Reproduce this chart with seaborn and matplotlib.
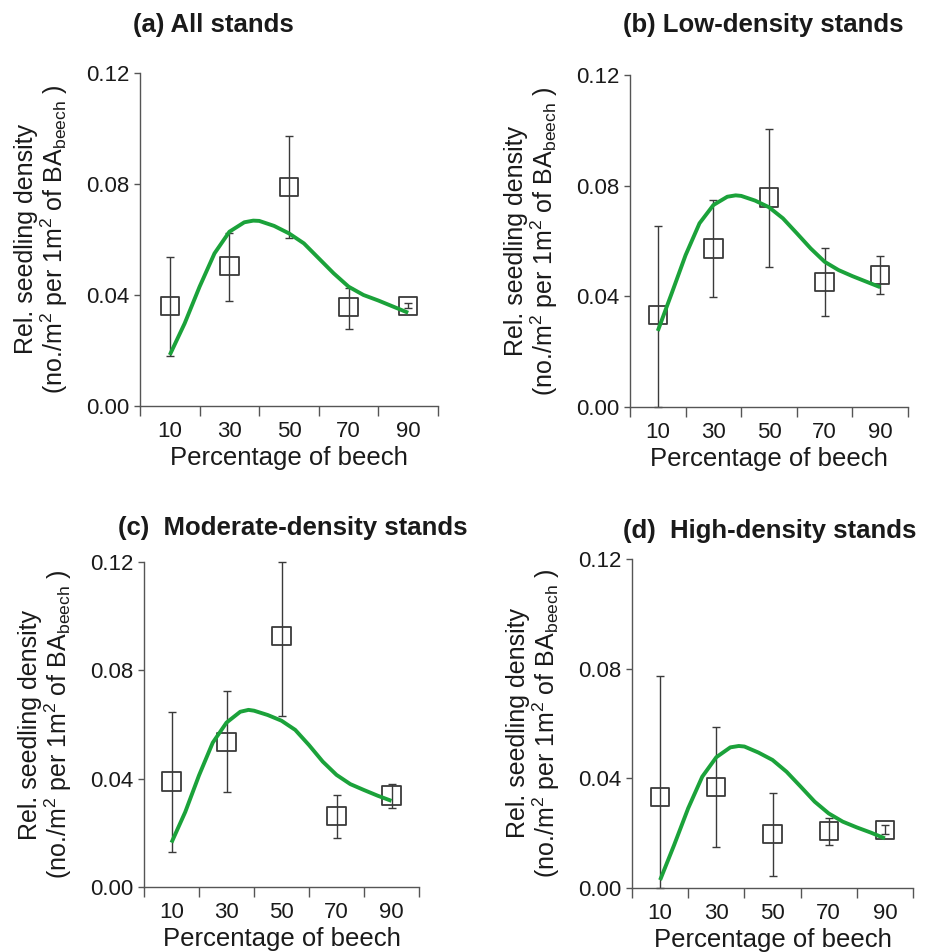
import matplotlib
matplotlib.use("Agg")
import matplotlib.pyplot as plt
import seaborn as sns
import pandas as pd

sns.set_theme(style="white")
plt.rcParams['font.family'] = ['Liberation Sans', 'DejaVu Sans']
plt.rcParams['mathtext.fontset'] = 'custom'
plt.rcParams['mathtext.rm'] = 'Liberation Sans'
plt.rcParams['mathtext.it'] = 'Liberation Sans:italic'
plt.rcParams['mathtext.bf'] = 'Liberation Sans:bold'
plt.rcParams['mathtext.default'] = 'regular'

# ---- data ----
pct = [10, 30, 50, 70, 90]
tick_labels = ["10", "30", "50", "70", "90"]

a_mean = [0.0361, 0.0505, 0.0789, 0.0356, 0.0361]
a_lo = [0.0180, 0.0380, 0.0606, 0.0279, 0.0352]
a_hi = [0.0537, 0.0625, 0.0972, 0.0424, 0.0370]

b_mean = [0.0332, 0.0573, 0.0757, 0.0452, 0.0476]
b_lo = [0.0000, 0.0398, 0.0507, 0.0328, 0.0410]
b_hi = [0.0655, 0.0748, 0.1006, 0.0576, 0.0545]

c_mean = [0.0389, 0.0535, 0.0926, 0.0261, 0.0338]
c_lo = [0.0130, 0.0352, 0.0630, 0.0181, 0.0292]
c_hi = [0.0647, 0.0724, 0.1200, 0.0341, 0.0382]

d_mean = [0.0333, 0.0368, 0.0196, 0.0208, 0.0212]
d_lo = [0.0000, 0.0151, 0.0044, 0.0158, 0.0196]
d_hi = [0.0774, 0.0589, 0.0346, 0.0257, 0.0230]

fit_x = [10, 15, 20, 25, 30, 35, 38, 40, 45, 50, 55, 60, 65, 70, 75, 80, 85, 90]
a_fit = [0.0184, 0.0298, 0.0430, 0.0550, 0.0628, 0.0662, 0.0668, 0.0667, 0.0649, 0.0622,
         0.0586, 0.0532, 0.0478, 0.0430, 0.0400, 0.0380, 0.0358, 0.0336]
b_fit = [0.0275, 0.0411, 0.0549, 0.0664, 0.0730, 0.0760, 0.0765, 0.0763, 0.0746, 0.0722,
         0.0682, 0.0628, 0.0573, 0.0525, 0.0495, 0.0473, 0.0453, 0.0433]
c_fit = [0.0164, 0.0277, 0.0412, 0.0533, 0.0607, 0.0647, 0.0654, 0.0651, 0.0635, 0.0614,
         0.0580, 0.0524, 0.0463, 0.0414, 0.0380, 0.0358, 0.0337, 0.0318]
d_fit = [0.0029, 0.0157, 0.0291, 0.0406, 0.0477, 0.0513, 0.0518, 0.0516, 0.0494, 0.0467,
         0.0424, 0.0370, 0.0315, 0.0272, 0.0242, 0.0221, 0.0202, 0.0181]

titles = ["(a) All stands", "(b) Low-density stands",
          "(c)  Moderate-density stands", "(d)  High-density stands"]
y_ticks = [0.00, 0.04, 0.08, 0.12]
y_tick_labels = ["0.00", "0.04", "0.08", "0.12"]
xlabel = "Percentage of beech"
ylabel = "Rel. seedling density\n(no./m$^{2}$ per 1m$^{2}$ of BA$_{beech}$ )"

panels = [
    (a_mean, a_lo, a_hi, a_fit),
    (b_mean, b_lo, b_hi, b_fit),
    (c_mean, c_lo, c_hi, c_fit),
    (d_mean, d_lo, d_hi, d_fit),
]

# ---- layout (pixels) ----
W, H = 933, 952
axes_px = [  # left, right, top, bottom
    (140, 438, 73, 406),
    (630, 908, 75, 407),
    (144, 419, 562, 887),
    (632, 913, 559, 888),
]
title_px = [(133, 25), (623, 25), (118, 528), (623, 531)]

GREEN = "#1ba23a"
GREY = "#3a3a3a"
SPINE = "#555555"
TEXT = "#1a1a1a"

fig = plt.figure(figsize=(W / 100, H / 100), dpi=100)
fig.patch.set_facecolor("white")

for i, (mean, lo, hi, fit) in enumerate(panels):
    l, r, t, b = axes_px[i]
    ax = fig.add_axes([l / W, 1 - b / H, (r - l) / W, (b - t) / H])
    ax.set_facecolor("white")

    fit_df = pd.DataFrame({"x": fit_x, "y": fit})
    pts_df = pd.DataFrame({"x": pct, "y": mean})

    err_lo = [m - v for m, v in zip(mean, lo)]
    err_hi = [v - m for m, v in zip(mean, hi)]
    ax.errorbar(pct, mean, yerr=[err_lo, err_hi], fmt="none", ecolor=GREY,
                elinewidth=1.0, capsize=3.2, capthick=1.0, zorder=2, clip_on=False)
    sns.scatterplot(data=pts_df, x="x", y="y", marker="s", s=175,
                    facecolors="none", edgecolor=GREY, linewidth=1.3,
                    ax=ax, zorder=3, clip_on=False)
    sns.lineplot(data=fit_df, x="x", y="y", color=GREEN, linewidth=2.8,
                 ax=ax, zorder=4, estimator=None, sort=False,
                 solid_joinstyle="round", solid_capstyle="butt")

    ax.set_xlim(0, 100)
    ax.set_ylim(0, 0.12)
    ax.set_xticks([0, 20, 40, 60, 80, 100])
    ax.set_xticklabels([])
    ax.set_xticks(pct, minor=True)
    ax.set_xticklabels(tick_labels, minor=True)
    ax.set_yticks(y_ticks)
    ax.set_yticklabels(y_tick_labels)

    ax.tick_params(axis="x", which="major", direction="out", length=7,
                   width=1.0, color=SPINE, bottom=True)
    ax.tick_params(axis="x", which="minor", length=0, pad=11,
                   labelsize=16, labelcolor=TEXT, bottom=True)
    ax.tick_params(axis="y", which="major", direction="out", length=4.5,
                   width=1.0, color=SPINE, pad=3, labelsize=16,
                   labelcolor=TEXT, left=True)

    for s in ["top", "right"]:
        ax.spines[s].set_visible(False)
    for s in ["left", "bottom"]:
        ax.spines[s].set_color(SPINE)
        ax.spines[s].set_linewidth(1.0)

    ax.set_xlabel(xlabel, fontsize=18.5, color=TEXT, labelpad=3)
    ax.set_ylabel("")
    ax.grid(False)

    fig.text((l - 98) / W, 1 - ((t + b) / 2) / H, ylabel, rotation=90,
             ha="center", va="center", fontsize=18, color=TEXT,
             multialignment="center", linespacing=1.0)

    tx, ty = title_px[i]
    fig.text(tx / W, 1 - ty / H, titles[i], ha="left", va="center",
             fontsize=18.5, fontweight="bold", color=TEXT)

fig.savefig("out.png", dpi=100, facecolor="white")
